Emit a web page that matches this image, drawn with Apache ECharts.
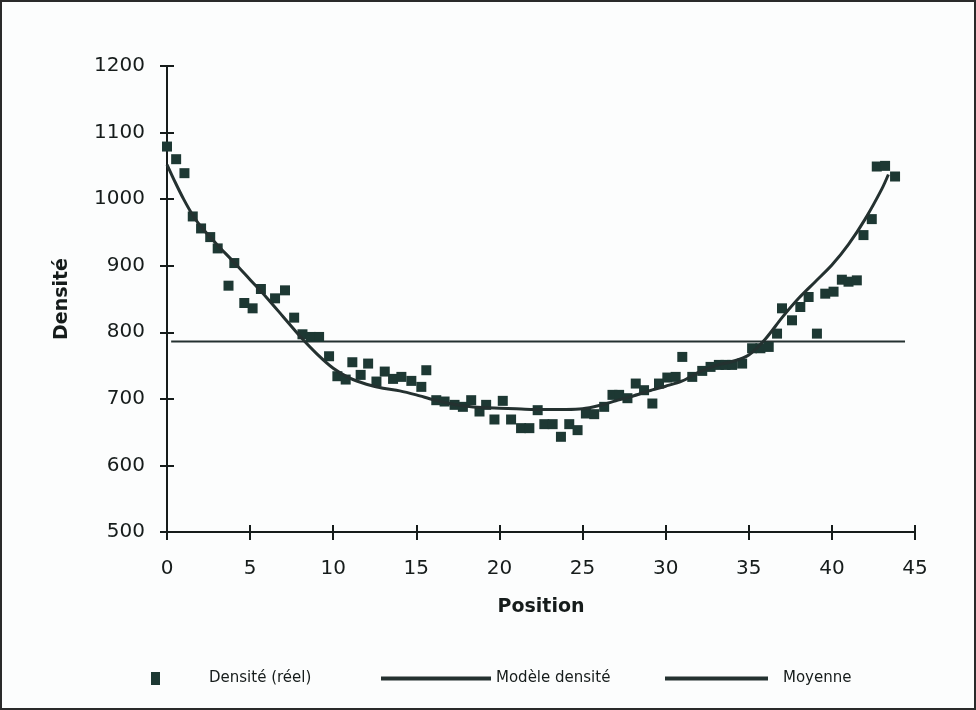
<!DOCTYPE html>
<html>
<head>
<meta charset="utf-8">
<script src="https://cdn.jsdelivr.net/npm/echarts@6/dist/echarts.min.js"></script>
<style>
  html, body { margin: 0; padding: 0; background: #fcfdfd; }
  #chart { width: 976px; height: 710px; }
</style>
</head>
<body>
<div id="chart"></div>
<script>
// Measured points (position, density)
const positions = [0.0, 0.55, 1.05, 1.55, 2.05, 2.6, 3.05, 3.7, 4.05, 4.65, 5.15, 5.65, 6.5, 7.1, 7.65, 8.15, 8.65, 9.15, 9.75, 10.25, 10.75, 11.15, 11.65, 12.1, 12.6, 13.1, 13.6, 14.1, 14.7, 15.3, 15.6, 16.2, 16.7, 17.3, 17.8, 18.3, 18.8, 19.2, 19.7, 20.2, 20.7, 21.3, 21.8, 22.3, 22.7, 23.2, 23.7, 24.2, 24.7, 25.2, 25.7, 26.3, 26.8, 27.2, 27.7, 28.2, 28.7, 29.2, 29.6, 30.1, 30.6, 31.0, 31.6, 32.2, 32.7, 33.2, 33.6, 34.0, 34.6, 35.2, 35.7, 36.2, 36.7, 37.0, 37.6, 38.1, 38.6, 39.1, 39.6, 40.1, 40.6, 41.0, 41.5, 41.9, 42.4, 42.7, 43.2, 43.8];
const densityReal = [1079, 1060, 1039, 974, 956, 943, 926, 870, 904, 844, 836, 865, 851, 863, 822, 797, 793, 793, 764, 734, 729, 755, 736, 753, 726, 741, 730, 733, 727, 718, 743, 698, 696, 691, 688, 698, 681, 691, 669, 697, 669, 656, 656, 683, 662, 662, 643, 662, 653, 678, 677, 688, 706, 706, 701, 723, 713, 693, 723, 732, 733, 763, 733, 742, 748, 751, 751, 751, 753, 776, 776, 778, 798, 836, 818, 838, 853, 798, 858, 861, 879, 876, 878, 946, 970, 1049, 1050, 1034];

// Model curve
const modelPositions = [0, 0.5, 1, 1.5, 2, 3, 4, 5, 6, 7, 8, 9, 10, 11, 12, 13, 14, 15, 16, 17, 18, 19, 20, 21, 22, 23, 24, 25, 26, 27, 28, 29, 30, 31, 32, 33, 34, 35, 36, 37, 38, 39, 40, 41, 42, 43, 43.4];
const modelDensity = [1052, 1025, 1000, 978, 960, 932, 906, 879, 852, 823, 794, 768, 746, 731, 722, 716, 712, 706, 699, 693, 689, 687, 686, 685, 684, 684, 684, 685, 690, 697, 704, 712, 719, 727, 740, 750, 756, 766, 790, 822, 851, 876, 901, 932, 970, 1015, 1037];

// Mean line
const meanPositions = [0.25, 44.4];
const meanValue = 786;

// Axis ticks
const xTicks = { min: 0, max: 45, interval: 5 };
const yTicks = { min: 500, max: 1200, interval: 100 };

const seriesNames = ['Densité (réel)', 'Modèle densité', 'Moyenne'];
const axisNames = { x: 'Position', y: 'Densité' };

const ink = '#161c1b';
const markColor = '#1d3833';
const lineColor = '#243130';
const font = 'DejaVu Sans';

const chart = echarts.init(document.getElementById('chart'), null, { renderer: 'canvas' });

const baseAxisLine = { show: true, lineStyle: { color: ink, width: 2 } };

chart.setOption({
  backgroundColor: '#fcfdfd',
  animation: false,
  grid: { left: 167, right: 61, top: 66, bottom: 178, containLabel: false },
  xAxis: [
    {
      type: 'value', min: xTicks.min, max: xTicks.max, interval: xTicks.interval,
      position: 'bottom',
      name: axisNames.x, nameLocation: 'middle', nameGap: 66,
      nameTextStyle: { fontFamily: font, fontSize: 19, fontWeight: 'bold', color: ink },
      axisLine: baseAxisLine,
      axisTick: { show: true, length: 8, lineStyle: { color: ink, width: 2 } },
      axisLabel: { fontFamily: font, fontSize: 20, color: ink, margin: 27 },
      splitLine: { show: false }
    },
    {
      type: 'value', min: xTicks.min, max: xTicks.max, interval: xTicks.interval,
      position: 'bottom',
      axisLine: { show: false },
      axisTick: { show: true, inside: true, length: 7, lineStyle: { color: ink, width: 2 } },
      axisLabel: { show: false },
      splitLine: { show: false }
    }
  ],
  yAxis: [
    {
      type: 'value', min: yTicks.min, max: yTicks.max, interval: yTicks.interval,
      position: 'left',
      name: axisNames.y, nameLocation: 'middle', nameGap: 95,
      nameTextStyle: { fontFamily: font, fontSize: 19, fontWeight: 'bold', color: ink },
      axisLine: baseAxisLine,
      axisTick: { show: true, length: 7, lineStyle: { color: ink, width: 2 } },
      axisLabel: { fontFamily: font, fontSize: 20, color: ink, margin: 22, formatter: v => String(v) },
      splitLine: { show: false }
    },
    {
      type: 'value', min: yTicks.min, max: yTicks.max, interval: yTicks.interval,
      position: 'left',
      axisLine: { show: false },
      axisTick: { show: true, inside: true, length: 7, lineStyle: { color: ink, width: 2 } },
      axisLabel: { show: false },
      splitLine: { show: false }
    }
  ],
  legend: [
    {
      data: [{ name: seriesNames[0], icon: 'rect' }],
      left: 146, top: 666, itemWidth: 9, itemHeight: 13,
      itemStyle: { opacity: 1 },
      textStyle: { fontFamily: font, fontSize: 15, color: ink, padding: [0, 0, 0, 44] }
    },
    {
      data: [{ name: seriesNames[1], icon: 'rect' }],
      left: 376, top: 666, itemWidth: 110, itemHeight: 4,
      textStyle: { fontFamily: font, fontSize: 15, color: ink }
    },
    {
      data: [{ name: seriesNames[2], icon: 'rect' }],
      left: 660, top: 666, itemWidth: 103, itemHeight: 4,
      textStyle: { fontFamily: font, fontSize: 15, color: ink, padding: [0, 0, 0, 10] }
    }
  ],
  graphic: [
    {
      type: 'rect', silent: true, z: 100,
      shape: { x: 1, y: 1, width: 974, height: 708 },
      style: { fill: 'none', stroke: '#2a2a2a', lineWidth: 2 }
    }
  ],
  series: [
    {
      name: seriesNames[0], type: 'scatter',
      symbol: 'rect', symbolSize: 10,
      itemStyle: { color: markColor, opacity: 1 },
      data: positions.map((p, i) => [p, densityReal[i]]),
      z: 3
    },
    {
      name: seriesNames[1], type: 'line', smooth: 0.3,
      showSymbol: false, symbol: 'none',
      lineStyle: { color: lineColor, width: 3 },
      itemStyle: { color: lineColor },
      data: modelPositions.map((p, i) => [p, modelDensity[i]]),
      z: 4
    },
    {
      name: seriesNames[2], type: 'line',
      showSymbol: false, symbol: 'none',
      lineStyle: { color: lineColor, width: 2 },
      itemStyle: { color: lineColor },
      data: meanPositions.map(p => [p, meanValue]),
      z: 2
    }
  ]
});
</script>
</body>
</html>
